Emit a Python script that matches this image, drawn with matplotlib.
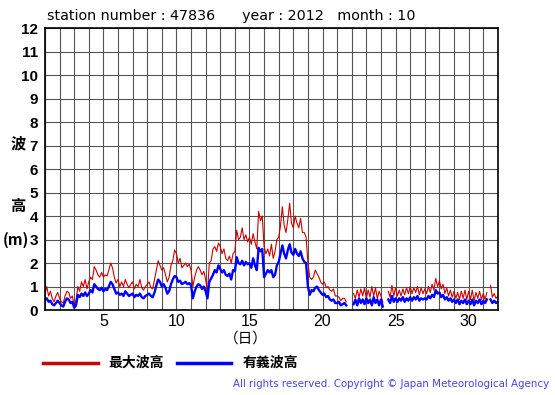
import numpy as np
import matplotlib
matplotlib.use('Agg')
import matplotlib.pyplot as plt

nan = np.nan

# 3-hourly readings, 8 per day, from day 1 00h to day 32 00h
significant_wave = [
    0.45, 0.5, 0.35, 0.4, 0.25, 0.2, 0.3, 0.4,
    0.3, 0.2, 0.15, 0.35, 0.5, 0.45, 0.3, 0.35,
    0.1, 0.2, 0.65, 0.55, 0.7, 0.6, 0.75, 0.6,
    0.7, 0.85, 0.75, 1.1, 1.0, 0.9, 0.85, 0.95,
    0.8, 0.9, 0.85, 1.0, 1.2, 1.1, 0.9, 0.7,
    0.75, 0.65, 0.7, 0.6, 0.8, 0.7, 0.6, 0.65,
    0.7, 0.55, 0.65, 0.6, 0.7, 0.55, 0.5, 0.6,
    0.65, 0.7, 0.6, 0.55, 0.75, 1.05, 1.3, 1.2,
    1.0, 1.1, 0.95, 0.7, 0.8, 1.1, 1.3, 1.45,
    1.4, 1.2, 1.25, 1.1, 1.15, 1.2, 1.1, 1.15,
    1.05, 0.5, 0.8, 1.0, 1.1, 1.05, 0.9, 1.0,
    0.8, 0.5, 1.2, 1.35, 1.5, 1.7, 1.6, 1.9,
    1.75, 1.6, 1.7, 1.5, 1.45, 1.55, 1.3, 1.7,
    1.65, 2.25, 2.0, 1.95, 2.1, 1.9, 2.05, 1.95,
    2.0, 1.8, 2.2, 1.9, 1.7, 2.65, 2.5, 2.6,
    1.4, 1.55, 1.7, 1.6, 1.7, 1.4, 1.5, 1.9,
    2.05, 2.4, 2.75, 2.4, 2.2, 2.55, 2.8, 2.45,
    2.35, 2.6, 2.4, 2.3, 2.5, 2.2, 2.05, 2.0,
    1.0, 0.65, 0.85, 0.8, 0.95, 1.0, 0.85, 0.75,
    0.65, 0.7, 0.55, 0.6, 0.45, 0.4, 0.45, 0.3,
    0.3, 0.35, 0.2, 0.25, 0.3, 0.2, nan, nan,
    nan, 0.25, 0.45, 0.2, 0.5, 0.3, 0.45, 0.25,
    0.5, 0.3, 0.45, 0.2, 0.55, 0.3, 0.45, 0.2,
    0.45, 0.15, nan, nan, 0.45, 0.3, 0.6, 0.35,
    0.5, 0.35, 0.5, 0.4, 0.55, 0.35, 0.5, 0.4,
    0.55, 0.4, 0.55, 0.45, 0.6, 0.4, 0.5, 0.45,
    0.5, 0.45, 0.6, 0.5, 0.65, 0.55, 0.85, 0.7,
    0.75, 0.55, 0.65, 0.45, 0.55, 0.4, 0.5, 0.35,
    0.45, 0.3, 0.45, 0.25, 0.4, 0.3, 0.45, 0.25,
    0.4, 0.25, 0.45, 0.2, 0.4, 0.3, 0.45, 0.25,
    0.4, 0.3, 0.45, nan, 0.45, 0.3, 0.4, 0.3,
    0.35,
]

max_wave = [
    0.7, 1.0, 0.6, 0.8, 0.5, 0.35, 0.6, 0.75,
    0.5, 0.35, 0.3, 0.6, 0.8, 0.75, 0.5, 0.6,
    0.2, 0.4, 1.0, 0.8, 1.2, 1.0, 1.3, 0.9,
    1.2, 1.4, 1.3, 1.85, 1.7, 1.5, 1.4, 1.6,
    1.4, 1.5, 1.45, 1.7, 2.0, 1.8, 1.4, 1.15,
    1.3, 1.0, 1.2, 1.0, 1.3, 1.1, 0.95, 1.1,
    1.2, 0.9, 1.1, 1.0, 1.3, 0.95, 0.85, 1.0,
    1.1, 1.2, 0.95, 0.9, 1.3, 1.7, 2.1, 1.9,
    1.7, 1.8, 1.5, 1.2, 1.4, 1.9, 2.1, 2.55,
    2.4, 2.0, 2.2, 1.8, 1.9, 2.0, 1.85, 1.95,
    1.7, 1.0, 1.4, 1.7, 1.85, 1.7, 1.5, 1.65,
    1.3, 0.75, 2.0, 2.1, 2.6, 2.7, 2.5, 2.85,
    2.7, 2.4, 2.6, 2.2, 2.1, 2.3, 2.0, 2.4,
    2.5, 3.4, 3.0, 3.1, 3.5, 3.0, 3.2, 2.9,
    3.1, 2.8, 3.25, 2.9, 2.6, 4.2, 3.8, 4.0,
    2.7, 2.4, 2.6, 2.3, 2.8, 2.2, 2.5, 3.0,
    3.1, 3.6, 4.4, 3.6, 3.3, 3.85, 4.55, 3.7,
    3.5, 4.0, 3.7, 3.5, 3.9, 3.3, 3.3, 3.1,
    2.0, 1.4, 1.3, 1.4, 1.7, 1.55, 1.4, 1.2,
    1.1, 1.2, 0.95, 1.0, 0.85, 0.8, 0.9, 0.6,
    0.6, 0.55, 0.4, 0.5, 0.5, 0.35, nan, nan,
    nan, 0.7, 0.5, 0.85, 0.55, 0.9, 0.6, 0.95,
    0.5, 0.85, 0.55, 1.0, 0.6, 0.95, 0.5, 0.8,
    0.6, 0.35, nan, nan, 0.8, 0.55, 1.05, 0.6,
    0.95, 0.6, 0.85, 0.6, 0.9, 0.65, 0.95, 0.7,
    1.0, 0.7, 0.95, 0.75, 1.0, 0.65, 0.95, 0.7,
    0.9, 0.7, 1.0, 0.75, 1.1, 0.85, 1.35, 1.0,
    1.25, 0.9, 1.1, 0.7, 0.95, 0.6, 0.85, 0.55,
    0.8, 0.5, 0.75, 0.45, 0.8, 0.5, 0.85, 0.45,
    0.8, 0.45, 0.85, 0.4, 0.75, 0.5, 0.8, 0.45,
    0.7, 0.45, 0.75, nan, 1.05, 0.55, 0.7, 0.5,
    0.6,
]

x_ticks = [5, 10, 15, 20, 25, 30]
y_ticks = list(range(0, 13))

days = 1 + np.arange(len(max_wave)) * 3 / 24

plt.rcParams['font.family'] = ['Liberation Sans', 'DejaVu Sans']
cjk = ['Noto Sans CJK JP', 'DejaVu Sans']

fig = plt.figure(figsize=(5.55, 3.95), dpi=100)
ax = fig.add_axes([0.081, 0.215, 0.816, 0.714])

ax.plot(days, max_wave, color='#cc0000', linewidth=0.8, zorder=3)
ax.plot(days, significant_wave, color='#0000ff', linewidth=1.7, zorder=4)

ax.set_xlim(1, 32)
ax.set_ylim(0, 12)
ax.set_xticks(np.arange(1, 33), minor=True)
ax.set_xticks(x_ticks)
ax.set_yticks(y_ticks)
ax.grid(True, which='both', axis='x', color='#555555', linewidth=0.8)
ax.grid(True, which='major', axis='y', color='#555555', linewidth=0.8)
ax.tick_params(which='both', length=0)
ax.tick_params(axis='x', labelsize=11.5, pad=3)
ax.tick_params(axis='y', labelsize=11, pad=5)
for lbl in ax.get_yticklabels():
    lbl.set_fontweight('bold')
for s in ax.spines.values():
    s.set_linewidth(1.2)
    s.set_zorder(5)

fig.text(47 / 555, 1 - 16 / 395,
         'station number : 47836      year : 2012   month : 10',
         family='DejaVu Sans', fontsize=10.3, va='center', ha='left')

fig.text(18 / 555, 1 - 143 / 395, '波', family=cjk, fontsize=11,
         fontweight='bold', ha='center', va='center')
fig.text(18 / 555, 1 - 206 / 395, '高', family=cjk, fontsize=11,
         fontweight='bold', ha='center', va='center')
fig.text(16 / 555, 1 - 240 / 395, '(m)', family=cjk, fontsize=11,
         fontweight='bold', ha='center', va='center')

fig.text(246 / 555, 1 - 339 / 395, '（日）', family=cjk, fontsize=10.5,
         ha='center', va='center')

# legend drawn by hand under the axes
fig.add_artist(plt.Line2D([43 / 555, 98 / 555], [1 - 363 / 395] * 2,
                          color='#cc0000', linewidth=2.5))
fig.text(108 / 555, 1 - 363 / 395, '最大波高', family=cjk, fontsize=10,
         fontweight='bold', va='center')
fig.add_artist(plt.Line2D([177 / 555, 231 / 555], [1 - 363 / 395] * 2,
                          color='#0000ff', linewidth=2.5))
fig.text(243 / 555, 1 - 363 / 395, '有義波高', family=cjk, fontsize=10,
         fontweight='bold', va='center')

fig.text(549 / 555, 1 - 384 / 395,
         'All rights reserved. Copyright © Japan Meteorological Agency',
         family='DejaVu Sans', fontsize=7.4, color='#4444ee',
         ha='right', va='center')

plt.savefig('out.png', dpi=100)
